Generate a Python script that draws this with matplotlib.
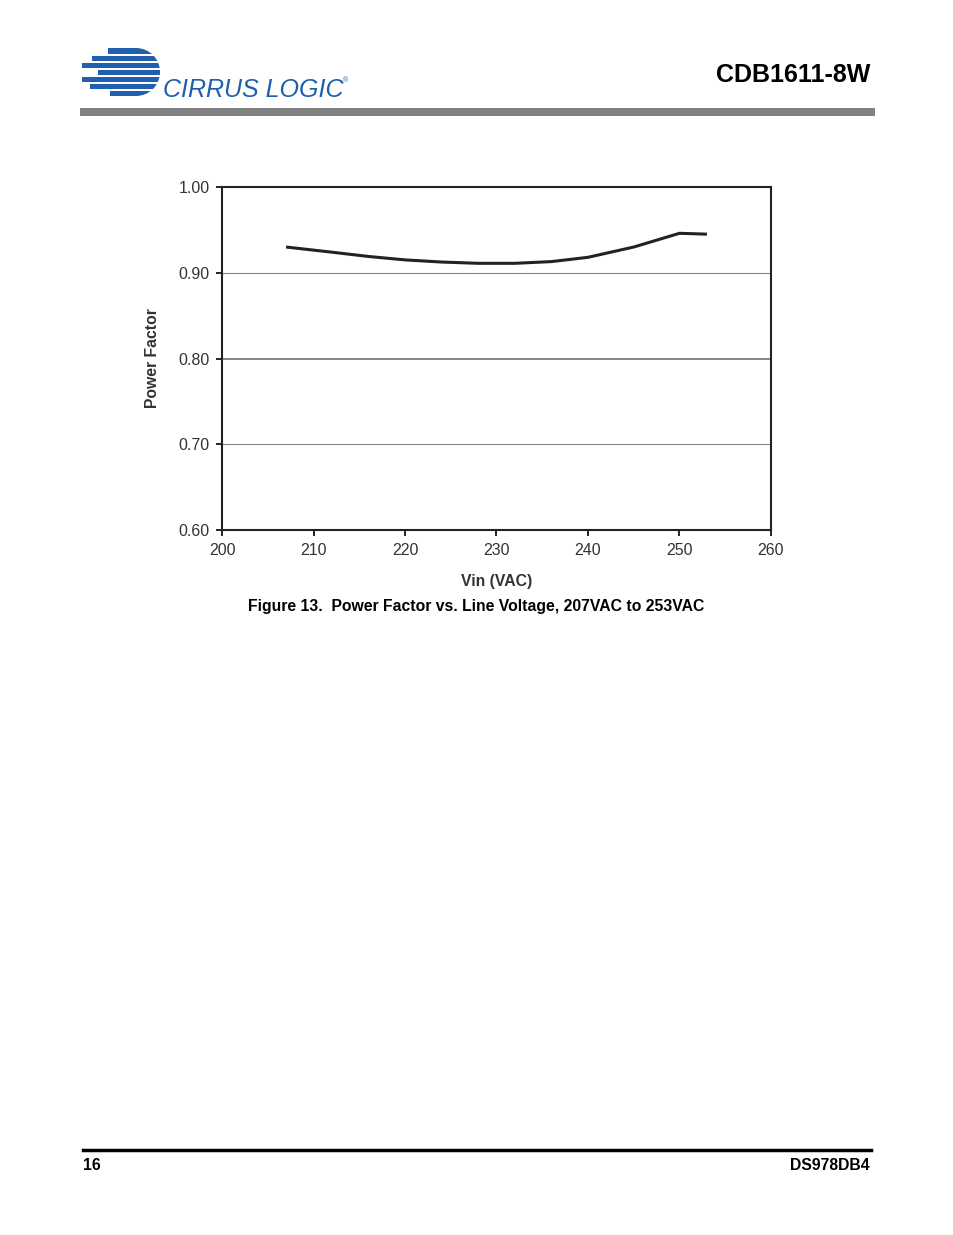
import matplotlib.pyplot as plt
from matplotlib.patches import Rectangle, Circle

plt.rcParams['font.family'] = ['Liberation Sans', 'DejaVu Sans']

# power factor readings
vin = [207, 212, 216, 220, 224, 228, 232, 236, 240, 245, 250, 253]
pf = [0.930, 0.924, 0.919, 0.915, 0.9125, 0.911, 0.911, 0.913, 0.918, 0.930, 0.946, 0.945]

xticks = [200, 210, 220, 230, 240, 250, 260]
yticks = [0.60, 0.70, 0.80, 0.90, 1.00]

W, H = 954, 1235
fig = plt.figure(figsize=(W / 100, H / 100), dpi=100)

# page decoration layer in pixel coords
pg = fig.add_axes([0, 0, 1, 1])
pg.set_xlim(0, W)
pg.set_ylim(H, 0)
pg.axis('off')

blue = '#1f5fae'
# logo: blue disc cut into stripes, stripes running out to the left
cx, cy, r = 136, 72, 24
pg.add_patch(Circle((cx, cy), r, color=blue, lw=0))
stripes = [(48, 54, 108), (56, 61, 92), (63, 68, 82), (70, 75, 98), (77, 82, 82),
           (84, 89, 90), (91, 96, 110)]
for y0, y1, xl in stripes:
    pg.add_patch(Rectangle((xl, y0), cx - xl, y1 - y0, color=blue, lw=0))
for g0, g1 in [(54, 56), (61, 63), (68, 70), (75, 77), (82, 84), (89, 91)]:
    pg.add_patch(Rectangle((cx - r - 2, g0), 2 * r + 4, g1 - g0, color='white', lw=0))
pg.text(163, 97, 'CIRRUS LOGIC', color=blue, fontsize=18, style='italic',
        va='baseline', ha='left')
pg.text(343, 82, '®', color=blue, fontsize=5, va='baseline')

pg.text(870, 75, 'CDB1611-8W', fontsize=18, weight='bold', ha='right', va='center')
pg.add_patch(Rectangle((80, 108), 795, 8, color='#808080', lw=0))

pg.plot([83, 871], [1150, 1150], color='black', lw=2.5)
pg.text(83, 1166, '16', fontsize=11.3, weight='bold', ha='left', va='center')
pg.text(870, 1166, 'DS978DB4', fontsize=11.3, weight='bold', ha='right', va='center')

pg.text(476, 607, 'Figure 13.  Power Factor vs. Line Voltage, 207VAC to 253VAC',
        fontsize=11.3, weight='bold', ha='center', va='center')

# chart
ax = fig.add_axes([222 / W, 1 - 530 / H, (771 - 222) / W, (530 - 187) / H])
for g in [0.70, 0.90]:
    ax.axhline(g, color='#888888', lw=0.8, zorder=1)
ax.axhline(0.80, color='#666666', lw=1.1, zorder=1)
ax.plot(vin, pf, color='#222222', lw=2.2, solid_capstyle='butt', zorder=3)

ax.set_xlim(200, 260)
ax.set_ylim(0.60, 1.00)
ax.set_xticks(xticks)
ax.set_yticks(yticks)
ax.set_yticklabels(['%.2f' % v for v in yticks])
ax.tick_params(direction='out', length=4, width=1.2, labelsize=11.5,
               labelcolor='#333333', pad=5)
for s in ax.spines.values():
    s.set_linewidth(1.5)
    s.set_color('#222222')

ax.set_xlabel('Vin (VAC)', fontsize=11.3, weight='bold', color='#333333', labelpad=12)
ax.set_ylabel('Power Factor', fontsize=11.3, weight='bold', color='#333333', labelpad=13)

fig.savefig('out.png', dpi=100)
